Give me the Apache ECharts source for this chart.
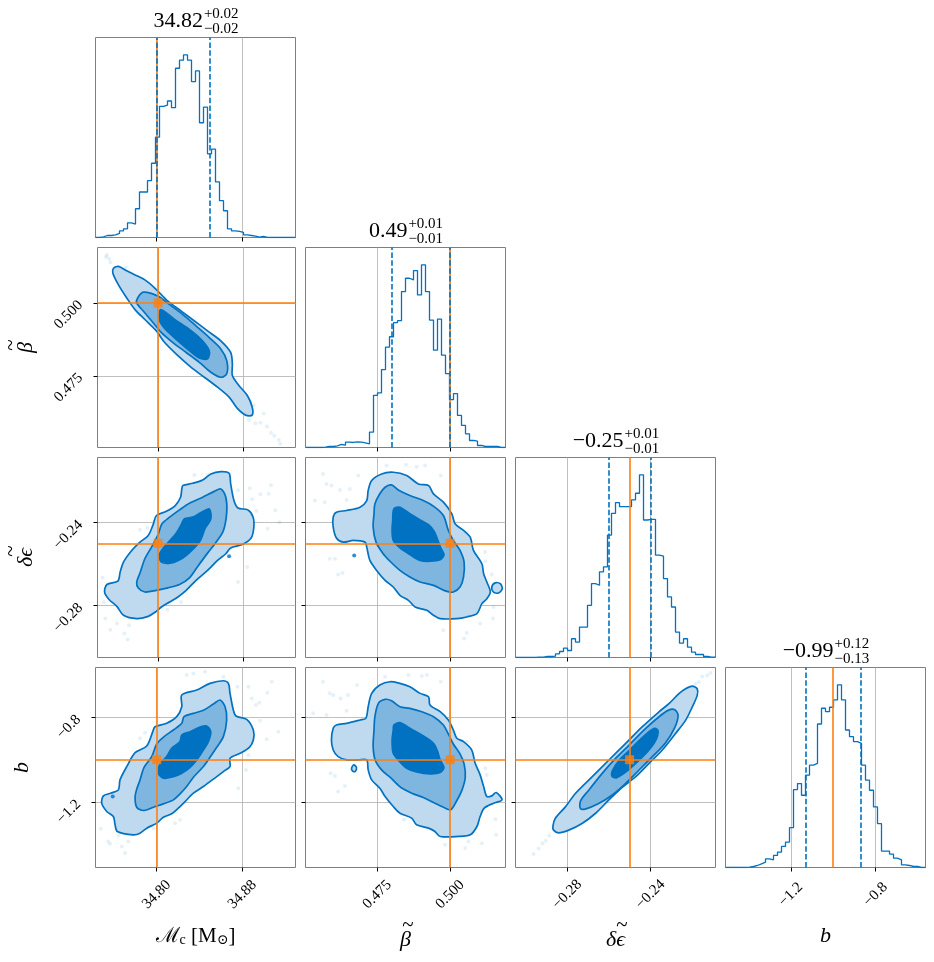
<!DOCTYPE html>
<html>
<head>
<meta charset="utf-8">
<title>corner plot</title>
<script src="https://cdn.jsdelivr.net/npm/echarts@6/dist/echarts.min.js"></script>
<style>
  html, body { margin: 0; padding: 0; background: #fff; }
  #chart { width: 934px; height: 962px; }
</style>
</head>
<body>
<div id="chart"></div>
<script>
// ---- parameters: Mc, beta, delta-eps, b ----
const ranges = [[34.7428, 34.9297], [0.4504, 0.5190], [-0.3049, -0.2087], [-1.508, -0.565]];
const truths = [34.80, 0.50, -0.25, -1.0];
const q16 = [34.8012, 0.4806, -0.2623, -1.126];
const q84 = [34.8451, 0.4965, -0.2366, -0.869];
const ticks = [[34.80, 34.88], [0.475, 0.500], [-0.28, -0.24], [-1.2, -0.8]];
const tickLabels = [['34.80', '34.88'], ['0.475', '0.500'], ['−0.28', '−0.24'], ['−1.2', '−0.8']];
const axisNames = ['{c|ℳ}{s|c} [M{s|⊙}]', '{t|~}\n{i|β}', '{u|~}\n{i|δϵ}', '{i|b}'];
const titleMain = ['34.82', '0.49', '−0.25', '−0.99'];
const titleUp = ['+0.02', '+0.01', '+0.01', '+0.12'];
const titleDown = ['−0.02', '−0.01', '−0.01', '−0.13'];

// ---- 1d histograms (50 bins over each range) ----
const histMc = [0,2,6,6,8,12,20,26,44,40, 86,136,136,170,222,300,392,396,408,388, 506,530,546,530,466,498,343,390,250,264, 166,110,80,26,20,18,15,8,6,4, 1,3,0,0,0,0,0,0,0,0];
const histBeta = [0,0,0,0,1,3,3,5,9,7, 16,15,17,16,14,11,46,156,163,233, 300,331,373,379,466,506,501,529,456,546, 466,381,291,384,276,221,143,161,96,66, 41,21,19,6,3,3,3,3,0,0];
const histDeps = [0,0,0,0,0,1,1,3,3,4, 11,18,28,21,56,46,91,91,156,221, 216,256,271,366,431,463,451,451,451,471, 491,546,411,413,413,306,303,236,181,151, 76,43,56,31,16,9,9,3,1,1];
const histB = [0,0,0,0,0,1,3,6,11,16, 26,23,36,46,63,76,119,233,251,216, 276,306,311,429,476,466,479,501,546,501, 411,391,376,371,306,261,231,181,131,49, 49,40,28,23,8,6,3,3,0,0];

// ---- 2d contours (outer / middle / inner level) and stray samples ----
const mcBetaOuter = [[34.7579,0.5119],[34.7626,0.5125],[34.7704,0.5110],[34.7782,0.5096],[34.7875,0.5079],[34.7969,0.5051],[34.8093,0.5006],[34.8218,0.4972],[34.8343,0.4938],[34.8467,0.4904],[34.8592,0.4870],[34.8685,0.4830],[34.8701,0.4791],[34.8701,0.4751],[34.8763,0.4717],[34.8841,0.4683],[34.8888,0.4643],[34.8888,0.4615],[34.8826,0.4615],[34.8748,0.4638],[34.8670,0.4677],[34.8561,0.4711],[34.8436,0.4745],[34.8312,0.4779],[34.8187,0.4819],[34.8062,0.4864],[34.7984,0.4904],[34.7875,0.4943],[34.7782,0.4977],[34.7704,0.5017],[34.7626,0.5062],[34.7573,0.5102]];
const mcBetaMid = [[34.7807,0.5017],[34.7860,0.5037],[34.8000,0.5023],[34.8109,0.4994],[34.8234,0.4960],[34.8358,0.4921],[34.8483,0.4881],[34.8592,0.4842],[34.8648,0.4802],[34.8648,0.4757],[34.8592,0.4745],[34.8498,0.4762],[34.8389,0.4796],[34.8265,0.4830],[34.8140,0.4864],[34.8031,0.4898],[34.7953,0.4932],[34.7860,0.4972],[34.7798,0.5000]];
const mcBetaInner = [[34.8025,0.4977],[34.8156,0.4943],[34.8280,0.4913],[34.8405,0.4875],[34.8483,0.4836],[34.8467,0.4808],[34.8389,0.4811],[34.8296,0.4836],[34.8187,0.4870],[34.8078,0.4906],[34.8016,0.4938]];
const mcBetaPts = [[34.7517,0.5164],[34.7539,0.5151],[34.7551,0.5139],[34.7508,0.5157],[34.7695,0.5121],[34.8903,0.4649],[34.8857,0.4598],[34.8919,0.4587],[34.8966,0.4589],[34.8997,0.4621],[34.9028,0.4576],[34.9065,0.4555],[34.9096,0.4544],[34.9140,0.4530],[34.9153,0.4517]];

const mcDepsOuter = [[34.8234,-0.2222],[34.8327,-0.2211],[34.8421,-0.2195],[34.8498,-0.2166],[34.8592,-0.2155],[34.8670,-0.2163],[34.8685,-0.2214],[34.8716,-0.2294],[34.8754,-0.2330],[34.8847,-0.2339],[34.8897,-0.2374],[34.8903,-0.2426],[34.8878,-0.2474],[34.8794,-0.2506],[34.8685,-0.2522],[34.8639,-0.2550],[34.8561,-0.2582],[34.8467,-0.2630],[34.8358,-0.2678],[34.8265,-0.2726],[34.8187,-0.2758],[34.8109,-0.2782],[34.8031,-0.2806],[34.7975,-0.2830],[34.7907,-0.2851],[34.7798,-0.2862],[34.7673,-0.2846],[34.7611,-0.2803],[34.7539,-0.2771],[34.7495,-0.2734],[34.7517,-0.2698],[34.7620,-0.2682],[34.7642,-0.2638],[34.7673,-0.2590],[34.7751,-0.2534],[34.7829,-0.2494],[34.7907,-0.2462],[34.7953,-0.2410],[34.7984,-0.2366],[34.8078,-0.2346],[34.8162,-0.2318],[34.8212,-0.2278],[34.8224,-0.2238]];
const mcDepsMid = [[34.8592,-0.2238],[34.8639,-0.2278],[34.8648,-0.2350],[34.8617,-0.2438],[34.8554,-0.2490],[34.8467,-0.2547],[34.8374,-0.2611],[34.8296,-0.2666],[34.8202,-0.2698],[34.8093,-0.2714],[34.7984,-0.2726],[34.7875,-0.2734],[34.7813,-0.2715],[34.7798,-0.2686],[34.7829,-0.2643],[34.7875,-0.2574],[34.7938,-0.2518],[34.8000,-0.2458],[34.8037,-0.2406],[34.8109,-0.2374],[34.8202,-0.2339],[34.8296,-0.2307],[34.8421,-0.2278],[34.8530,-0.2250]];
const mcDepsInner = [[34.8483,-0.2334],[34.8498,-0.2382],[34.8442,-0.2430],[34.8399,-0.2486],[34.8318,-0.2534],[34.8234,-0.2570],[34.8125,-0.2594],[34.8031,-0.2590],[34.8012,-0.2554],[34.8056,-0.2518],[34.8118,-0.2483],[34.8171,-0.2451],[34.8218,-0.2410],[34.8249,-0.2382],[34.8327,-0.2374],[34.8405,-0.2352]];
const mcDepsPts = [[34.8343,-0.2171],[34.8467,-0.2171],[34.8629,-0.2176],[34.8754,-0.2245],[34.8866,-0.2235],[34.8888,-0.2288],[34.8928,-0.2344],[34.8966,-0.2264],[34.9044,-0.2261],[34.9065,-0.2220],[34.9106,-0.2341],[34.9146,-0.2398],[34.9034,-0.2430],[34.8841,-0.2614],[34.8754,-0.2686],[34.7477,-0.2666],[34.7489,-0.2782],[34.7502,-0.2862],[34.7548,-0.2915],[34.7611,-0.2886],[34.7682,-0.2934],[34.7713,-0.2963],[34.7726,-0.2894],[34.8087,-0.2819],[34.8218,-0.2782],[34.7829,-0.2435],[34.7900,-0.2426]];
const mcDepsSpot = [[34.8670,-0.2562]];

const betaDepsOuter = [[0.4599,-0.2374],[0.4610,-0.2350],[0.4645,-0.2342],[0.4691,-0.2326],[0.4714,-0.2294],[0.4719,-0.2246],[0.4731,-0.2198],[0.4765,-0.2166],[0.4805,-0.2158],[0.4851,-0.2174],[0.4891,-0.2214],[0.4926,-0.2222],[0.4943,-0.2262],[0.4977,-0.2302],[0.5006,-0.2358],[0.5017,-0.2406],[0.5046,-0.2438],[0.5069,-0.2470],[0.5080,-0.2534],[0.5109,-0.2598],[0.5115,-0.2646],[0.5126,-0.2686],[0.5138,-0.2734],[0.5126,-0.2766],[0.5109,-0.2790],[0.5092,-0.2838],[0.5057,-0.2854],[0.5023,-0.2862],[0.4966,-0.2862],[0.4943,-0.2846],[0.4920,-0.2822],[0.4880,-0.2806],[0.4857,-0.2774],[0.4828,-0.2750],[0.4805,-0.2710],[0.4777,-0.2678],[0.4748,-0.2630],[0.4725,-0.2582],[0.4714,-0.2518],[0.4708,-0.2494],[0.4668,-0.2486],[0.4633,-0.2494],[0.4610,-0.2474],[0.4599,-0.2422]];
const betaDepsLoop = [[0.5143,-0.2710],[0.5155,-0.2690],[0.5172,-0.2694],[0.5179,-0.2718],[0.5166,-0.2739],[0.5149,-0.2734]];
const betaDepsMid = [[0.4742,-0.2310],[0.4757,-0.2266],[0.4777,-0.2230],[0.4799,-0.2219],[0.4822,-0.2243],[0.4862,-0.2270],[0.4908,-0.2294],[0.4945,-0.2323],[0.4977,-0.2366],[0.4994,-0.2438],[0.5011,-0.2486],[0.5034,-0.2534],[0.5048,-0.2590],[0.5046,-0.2662],[0.5034,-0.2710],[0.5011,-0.2734],[0.4986,-0.2730],[0.4943,-0.2702],[0.4897,-0.2686],[0.4862,-0.2662],[0.4828,-0.2630],[0.4794,-0.2586],[0.4769,-0.2547],[0.4746,-0.2494],[0.4736,-0.2422],[0.4739,-0.2358]];
const betaDepsInner = [[0.4807,-0.2334],[0.4828,-0.2326],[0.4862,-0.2358],[0.4897,-0.2387],[0.4926,-0.2410],[0.4945,-0.2442],[0.4956,-0.2478],[0.4968,-0.2522],[0.4979,-0.2554],[0.4966,-0.2579],[0.4931,-0.2586],[0.4897,-0.2582],[0.4862,-0.2554],[0.4828,-0.2522],[0.4805,-0.2486],[0.4801,-0.2438],[0.4803,-0.2390]];
const betaDepsPts = [[0.4564,-0.2166],[0.4576,-0.2214],[0.4593,-0.2222],[0.4622,-0.2243],[0.4656,-0.2238],[0.4685,-0.2174],[0.4536,-0.2294],[0.4570,-0.2302],[0.4645,-0.2291],[0.4587,-0.2574],[0.4605,-0.2574],[0.4616,-0.2650],[0.4631,-0.2643],[0.4782,-0.2126],[0.4849,-0.2122],[0.4885,-0.2131],[0.4914,-0.2126],[0.4968,-0.2174],[0.5057,-0.2446],[0.5120,-0.2542],[0.5121,-0.2586],[0.5143,-0.2650],[0.5149,-0.2806],[0.5147,-0.2862],[0.5103,-0.2886],[0.5057,-0.2931],[0.4977,-0.2918],[0.5048,-0.2958]];
const betaDepsSpot = [[0.4671,-0.2558]];

const mcBOuter = [[34.8234,-0.6949],[34.8374,-0.6713],[34.8498,-0.6400],[34.8623,-0.6274],[34.8670,-0.6400],[34.8685,-0.6870],[34.8716,-0.7655],[34.8741,-0.7937],[34.8841,-0.8094],[34.8903,-0.8596],[34.8903,-0.9067],[34.8866,-0.9412],[34.8779,-0.9695],[34.8685,-0.9930],[34.8685,-1.0322],[34.8623,-1.0557],[34.8561,-1.0793],[34.8436,-1.1264],[34.8343,-1.1577],[34.8265,-1.1970],[34.8202,-1.2283],[34.8140,-1.2550],[34.8062,-1.2707],[34.8000,-1.2989],[34.7907,-1.3225],[34.7844,-1.3460],[34.7782,-1.3539],[34.7632,-1.3382],[34.7611,-1.3068],[34.7595,-1.2676],[34.7533,-1.2440],[34.7486,-1.2048],[34.7502,-1.1703],[34.7570,-1.1577],[34.7642,-1.1420],[34.7657,-1.0950],[34.7720,-1.0322],[34.7798,-0.9663],[34.7907,-0.9349],[34.7963,-0.8675],[34.7984,-0.8439],[34.8093,-0.8282],[34.8187,-0.7969],[34.8234,-0.7498]];
const mcBMid = [[34.8592,-0.7184],[34.8639,-0.7498],[34.8654,-0.8126],[34.8623,-0.8910],[34.8561,-0.9412],[34.8498,-0.9883],[34.8430,-1.0354],[34.8343,-1.0824],[34.8280,-1.1264],[34.8218,-1.1609],[34.8156,-1.1891],[34.8062,-1.2079],[34.7969,-1.2236],[34.7875,-1.2393],[34.7813,-1.2236],[34.7798,-1.1766],[34.7813,-1.1389],[34.7844,-1.0950],[34.7882,-1.0354],[34.7953,-0.9852],[34.8000,-0.9255],[34.8069,-0.8910],[34.8156,-0.8596],[34.8234,-0.8282],[34.8255,-0.7969],[34.8343,-0.7812],[34.8442,-0.7655],[34.8530,-0.7372]];
const mcBInner = [[34.8467,-0.8408],[34.8505,-0.8675],[34.8483,-0.9145],[34.8436,-0.9538],[34.8374,-1.0008],[34.8312,-1.0354],[34.8234,-1.0636],[34.8156,-1.0793],[34.8062,-1.0871],[34.8016,-1.0636],[34.8031,-1.0197],[34.8093,-0.9852],[34.8140,-0.9459],[34.8218,-0.9145],[34.8234,-0.8832],[34.8312,-0.8675],[34.8399,-0.8471]];
const mcBPts = [[34.8280,-0.6007],[34.8343,-0.5929],[34.8452,-0.5850],[34.8623,-0.6086],[34.8754,-0.6557],[34.8857,-0.6557],[34.8888,-0.7106],[34.8928,-0.7419],[34.8959,-0.7310],[34.8966,-0.8157],[34.9034,-0.6839],[34.9075,-0.6321],[34.9137,-0.8675],[34.9028,-0.9036],[34.8857,-0.9773],[34.8835,-1.0479],[34.8763,-1.1342],[34.7477,-1.3256],[34.7548,-1.3852],[34.7564,-1.3962],[34.7642,-1.3570],[34.7673,-1.4088],[34.7704,-1.4401],[34.7735,-1.3852],[34.7969,-1.3225],[34.8171,-1.2989],[34.8218,-1.2832],[34.7844,-0.8989],[34.7891,-0.8722]];
const mcBSpot = [[34.7589,-1.1734]];

const betaBOuter = [[0.4599,-0.8518],[0.4610,-0.8361],[0.4645,-0.8282],[0.4691,-0.8126],[0.4711,-0.8047],[0.4719,-0.7498],[0.4731,-0.6870],[0.4759,-0.6478],[0.4794,-0.6321],[0.4828,-0.6400],[0.4862,-0.6557],[0.4897,-0.6870],[0.4926,-0.7027],[0.4931,-0.7419],[0.4966,-0.7733],[0.4994,-0.8126],[0.5011,-0.8596],[0.5023,-0.8988],[0.5046,-0.9145],[0.5074,-0.9538],[0.5086,-1.0165],[0.5103,-1.0714],[0.5115,-1.1264],[0.5126,-1.1734],[0.5143,-1.1703],[0.5158,-1.1546],[0.5178,-1.1891],[0.5149,-1.2048],[0.5117,-1.2283],[0.5103,-1.2676],[0.5092,-1.3146],[0.5069,-1.3539],[0.5029,-1.3617],[0.4966,-1.3617],[0.4948,-1.3382],[0.4926,-1.3225],[0.4885,-1.3068],[0.4868,-1.2754],[0.4828,-1.2519],[0.4805,-1.2205],[0.4777,-1.1734],[0.4759,-1.1342],[0.4731,-1.0950],[0.4719,-1.0479],[0.4714,-1.0008],[0.4685,-1.0008],[0.4645,-1.0008],[0.4616,-0.9852],[0.4599,-0.9538],[0.4593,-0.9067]];
const betaBLoop = [[0.4662,-1.0400],[0.4670,-1.0244],[0.4679,-1.0369],[0.4674,-1.0557],[0.4665,-1.0526]];
const betaBMid = [[0.4742,-0.7969],[0.4754,-0.7341],[0.4777,-0.7153],[0.4799,-0.7216],[0.4828,-0.7498],[0.4862,-0.7576],[0.4903,-0.7733],[0.4943,-0.7969],[0.4977,-0.8361],[0.4994,-0.8785],[0.5011,-0.9255],[0.5034,-0.9726],[0.5048,-1.0197],[0.5052,-1.0824],[0.5041,-1.1420],[0.5023,-1.1923],[0.5002,-1.2362],[0.4977,-1.2236],[0.4943,-1.2017],[0.4906,-1.1766],[0.4874,-1.1609],[0.4830,-1.1295],[0.4794,-1.0824],[0.4765,-1.0479],[0.4743,-1.0008],[0.4736,-0.9381],[0.4739,-0.8596]];
const betaBInner = [[0.4807,-0.8361],[0.4828,-0.8251],[0.4862,-0.8518],[0.4897,-0.8785],[0.4926,-0.9036],[0.4945,-0.9255],[0.4956,-0.9569],[0.4966,-1.0008],[0.4979,-1.0354],[0.4966,-1.0605],[0.4931,-1.0667],[0.4885,-1.0573],[0.4851,-1.0400],[0.4824,-1.0040],[0.4805,-0.9695],[0.4801,-0.9098],[0.4805,-0.8596]];
const betaBPts = [[0.4564,-0.6321],[0.4587,-0.6870],[0.4599,-0.6949],[0.4624,-0.7106],[0.4650,-0.6949],[0.4681,-0.6478],[0.4530,-0.7812],[0.4576,-0.7890],[0.4645,-0.7686],[0.4590,-1.0636],[0.4605,-1.0761],[0.4616,-1.1499],[0.4639,-1.1232],[0.4777,-0.6086],[0.4857,-0.6007],[0.4903,-0.6054],[0.4920,-0.6007],[0.4968,-0.6321],[0.5057,-0.9145],[0.5121,-1.0400],[0.5126,-1.0714],[0.5155,-1.2801],[0.5158,-1.3539],[0.5109,-1.3931],[0.5063,-1.3852],[0.5052,-1.4166],[0.4983,-1.4009],[0.4842,-1.2832]];

const depsBOuter = [[-0.2866,-1.3319],[-0.2842,-1.3444],[-0.2793,-1.3319],[-0.2729,-1.3005],[-0.2665,-1.2534],[-0.2601,-1.1907],[-0.2537,-1.1311],[-0.2472,-1.0809],[-0.2408,-1.0181],[-0.2344,-0.9553],[-0.2280,-0.8769],[-0.2231,-0.8141],[-0.2199,-0.7514],[-0.2175,-0.6964],[-0.2175,-0.6651],[-0.2199,-0.6525],[-0.2231,-0.6651],[-0.2263,-0.6886],[-0.2311,-0.7357],[-0.2360,-0.7749],[-0.2440,-0.8455],[-0.2520,-0.9240],[-0.2601,-1.0024],[-0.2681,-1.0809],[-0.2761,-1.1593],[-0.2809,-1.2221],[-0.2858,-1.2770],[-0.2869,-1.3131]];
const depsBMid = [[-0.2737,-1.2299],[-0.2710,-1.2315],[-0.2649,-1.2064],[-0.2585,-1.1671],[-0.2520,-1.1122],[-0.2456,-1.0495],[-0.2392,-0.9867],[-0.2328,-0.9208],[-0.2283,-0.8486],[-0.2267,-0.7906],[-0.2283,-0.7639],[-0.2315,-0.7671],[-0.2360,-0.7984],[-0.2424,-0.8533],[-0.2504,-0.9318],[-0.2569,-0.9946],[-0.2633,-1.0652],[-0.2697,-1.1436],[-0.2736,-1.1938]];
const depsBInner = [[-0.2585,-1.0777],[-0.2565,-1.0856],[-0.2520,-1.0589],[-0.2472,-1.0181],[-0.2416,-0.9647],[-0.2376,-0.9114],[-0.2363,-0.8643],[-0.2379,-0.8518],[-0.2411,-0.8706],[-0.2456,-0.9114],[-0.2504,-0.9585],[-0.2553,-1.0055],[-0.2582,-1.0495]];
const depsBPts = [[-0.2962,-1.4449],[-0.2938,-1.4182],[-0.2919,-1.3946],[-0.2903,-1.3821],[-0.2887,-1.3586],[-0.2183,-0.6415],[-0.2167,-0.6337],[-0.2151,-0.6070],[-0.2127,-0.6023],[-0.2111,-0.5913]];

// ---- style / layout ----
const N = 4;
const LEFT = 95.5, TOP = 37.5, SIZE = 200, STEP = 210;
const BLUE = '#0072c1', ORANGE = '#ff7f0e';
const FILLS = ['#bfdaef', '#7fb6df', '#0072c1'];
const SERIF = "'Liberation Serif', 'DejaVu Serif', serif";

const chart = echarts.init(document.getElementById('chart'));

const grids = [], xAxes = [], yAxes = [], series = [], graphics = [];
const gridIndex = {};

function labelFor(p) {
    return function (v) {
        const i = ticks[p].findIndex(t => Math.abs(t - v) < 1e-9);
        return i < 0 ? '' : tickLabels[p][i];
    };
}

function makeAxis(dim, gi, p, labelled) {
    const accented = p === 1 || p === 2;
    return {
        type: 'value',
        gridIndex: gi,
        min: ranges[p][0],
        max: ranges[p][1],
        axisLine: { show: false, onZero: false },
        axisTick: {
            show: true, inside: false, length: 4, customValues: ticks[p],
            lineStyle: { color: '#000', width: 1 }
        },
        axisLabel: Object.assign({
            show: labelled, customValues: ticks[p], formatter: labelFor(p),
            rotate: 45, color: '#000', fontSize: 15, fontFamily: SERIF
        }, dim === 'x' ? { align: 'center', verticalAlign: 'middle', margin: 27 } : { margin: 17 }),
        splitLine: { show: true, lineStyle: { color: '#b0b0b0', width: 0.8 } },
        name: labelled ? axisNames[p] : '',
        nameLocation: 'middle',
        nameGap: dim === 'x' ? (accented ? 53 : 58) : (accented ? 60 : 62),
        nameTextStyle: {
            color: '#000', fontSize: 21, fontFamily: SERIF, align: 'center',
            rich: {
                c: { fontSize: 21, fontFamily: SERIF },
                i: { fontSize: 22, lineHeight: 22, fontFamily: SERIF, fontStyle: 'italic' },
                s: { fontSize: 14, fontFamily: SERIF, verticalAlign: 'bottom', padding: [8, 0, 0, 0] },
                t: { fontSize: 21, lineHeight: 8, fontFamily: SERIF, padding: [0, 0, 0, 5] },
                u: { fontSize: 21, lineHeight: 8, fontFamily: SERIF, padding: [0, 0, 0, 13] }
            }
        }
    };
}

const hists = [histMc, histBeta, histDeps, histB];

for (let r = 0; r < N; r++) {
    for (let c = 0; c <= r; c++) {
        const gi = grids.length;
        gridIndex[r + '_' + c] = gi;
        grids.push({
            left: LEFT + STEP * c, top: TOP + STEP * r, width: SIZE, height: SIZE,
            show: true, borderColor: '#7f7f7f', borderWidth: 1, backgroundColor: 'transparent'
        });
        xAxes.push(makeAxis('x', gi, c, r === N - 1));
        if (r === c) {
            yAxes.push({ type: 'value', gridIndex: gi, min: 0, max: Math.max(...hists[r]) * 1.095, show: false });
        } else {
            yAxes.push(makeAxis('y', gi, r, c === 0));
        }
    }
}

// histograms on the diagonal
function histSeries(p, counts) {
    const gi = gridIndex[p + '_' + p];
    const lo = ranges[p][0], hi = ranges[p][1];
    const w = (hi - lo) / counts.length;
    const pts = counts.map((v, i) => [lo + i * w, v]);
    pts.push([hi, counts[counts.length - 1]]);
    const dash = { color: BLUE, width: 1.6, type: [5.5, 2.4] };
    return {
        type: 'line', xAxisIndex: gi, yAxisIndex: gi, data: pts, step: 'end',
        showSymbol: false, symbol: 'none', silent: true, z: 3,
        lineStyle: { color: BLUE, width: 1.3 },
        markLine: {
            silent: true, symbol: ['none', 'none'], label: { show: false }, animation: false,
            data: [
                { xAxis: truths[p], lineStyle: { color: ORANGE, width: 1.6, type: 'solid' } },
                { xAxis: q16[p], lineStyle: dash },
                { xAxis: q84[p], lineStyle: dash }
            ]
        }
    };
}
hists.forEach((h, p) => series.push(histSeries(p, h)));

// filled contour level as a polygon through the axes
function contourSeries(gi, pts, level) {
    return {
        type: 'custom', xAxisIndex: gi, yAxisIndex: gi, data: pts, silent: true, z: 3,
        renderItem: function (params, api) {
            if (params.dataIndex !== 0) return null;
            return {
                type: 'polygon',
                shape: { points: pts.map(pt => api.coord(pt)), smooth: 0.3 },
                style: { fill: FILLS[level], stroke: BLUE, lineWidth: 1.7 }
            };
        }
    };
}

function panel(r, c, levels, loops, pts, spots) {
    const gi = gridIndex[r + '_' + c];
    series.push({
        type: 'scatter', xAxisIndex: gi, yAxisIndex: gi, data: pts, symbolSize: 4, silent: true, z: 2,
        itemStyle: { color: 'rgba(0,114,193,0.13)' }
    });
    loops.forEach(l => series.push(contourSeries(gi, l, 0)));
    levels.forEach((l, k) => series.push(contourSeries(gi, l, k)));
    if (spots.length) {
        series.push({
            type: 'scatter', xAxisIndex: gi, yAxisIndex: gi, data: spots, symbolSize: 4, silent: true, z: 3,
            itemStyle: { color: BLUE }
        });
    }
    series.push({
        type: 'scatter', xAxisIndex: gi, yAxisIndex: gi, data: [[truths[c], truths[r]]],
        symbol: 'rect', symbolSize: 9, silent: true, z: 6, itemStyle: { color: ORANGE },
        markLine: {
            silent: true, symbol: ['none', 'none'], label: { show: false }, animation: false,
            lineStyle: { color: ORANGE, width: 1.6, type: 'solid' },
            data: [{ xAxis: truths[c] }, { yAxis: truths[r] }]
        }
    });
}

panel(1, 0, [mcBetaOuter, mcBetaMid, mcBetaInner], [], mcBetaPts, []);
panel(2, 0, [mcDepsOuter, mcDepsMid, mcDepsInner], [], mcDepsPts, mcDepsSpot);
panel(2, 1, [betaDepsOuter, betaDepsMid, betaDepsInner], [betaDepsLoop], betaDepsPts, betaDepsSpot);
panel(3, 0, [mcBOuter, mcBMid, mcBInner], [], mcBPts, mcBSpot);
panel(3, 1, [betaBOuter, betaBMid, betaBInner], [betaBLoop], betaBPts, []);
panel(3, 2, [depsBOuter, depsBMid, depsBInner], [], depsBPts, []);

// titles above the diagonal: median with +/- errors
const ctx = document.createElement('canvas').getContext('2d');
function textWidth(t, size) {
    ctx.font = size + 'px ' + SERIF;
    return ctx.measureText(t).width;
}
for (let p = 0; p < N; p++) {
    const cx = LEFT + STEP * p + SIZE / 2;
    const top = TOP + STEP * p;
    const wm = textWidth(titleMain[p], 22);
    const ws = Math.max(textWidth(titleUp[p], 15), textWidth(titleDown[p], 15));
    const x0 = cx - (wm + ws) / 2;
    const base = { fill: '#000', fontFamily: SERIF, align: 'left', verticalAlign: 'middle' };
    graphics.push({ type: 'text', x: x0, y: top - 16, style: Object.assign({ text: titleMain[p], fontSize: 22 }, base) });
    graphics.push({ type: 'text', x: x0 + wm + 1, y: top - 23, style: Object.assign({ text: titleUp[p], fontSize: 15 }, base) });
    graphics.push({ type: 'text', x: x0 + wm + 1, y: top - 8, style: Object.assign({ text: titleDown[p], fontSize: 15 }, base) });
}

chart.setOption({
    animation: false,
    backgroundColor: '#fff',
    textStyle: { fontFamily: SERIF },
    grid: grids,
    xAxis: xAxes,
    yAxis: yAxes,
    series: series,
    graphic: graphics
});
</script>
</body>
</html>
